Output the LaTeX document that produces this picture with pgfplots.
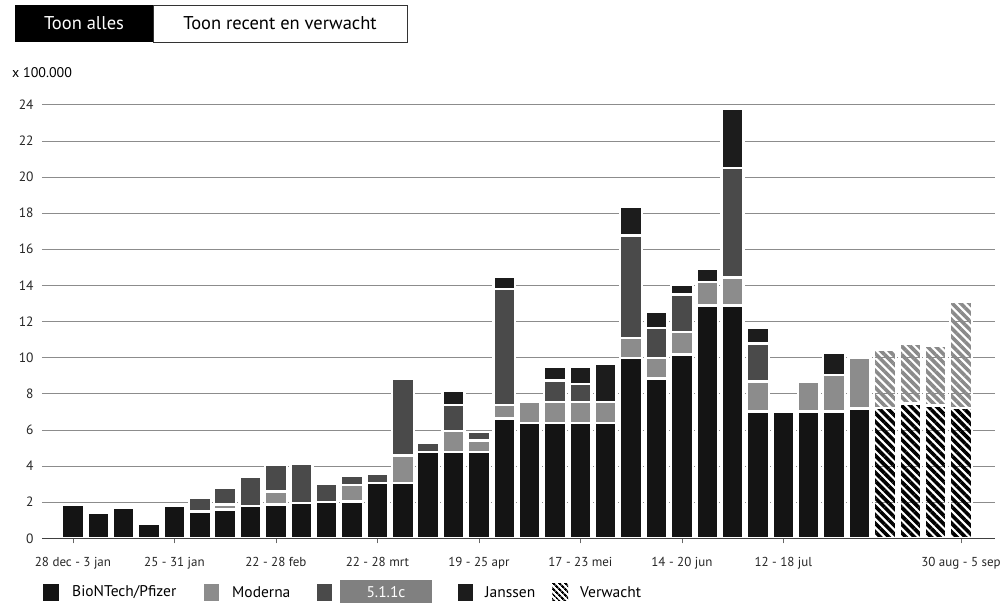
\documentclass[border=0pt]{standalone}
\usepackage{fontspec}
\setmainfont{PT Sans}
\usepackage{pgfplots}
\pgfplotsset{compat=1.18}
\usepackage{pgfplotstable}
\usetikzlibrary{patterns.meta}

\definecolor{pfz}{HTML}{141414}
\definecolor{mod}{HTML}{8C8C8C}
\definecolor{azc}{HTML}{4A4A4A}
\definecolor{jan}{HTML}{1C1C1C}
\definecolor{vm}{HTML}{8A8A8A}

\pgfplotstableread{
x P M A J VP VM
0 1.86 0 0 0 0 0
1 1.40 0 0 0 0 0
2 1.69 0 0 0 0 0
3 0.81 0 0 0 0 0
4 1.78 0 0 0 0 0
5 1.49 0 0.75 0 0 0
6 1.58 0.28 0.92 0 0 0
7 1.78 0 1.65 0 0 0
8 1.86 0.73 1.48 0 0 0
9 1.95 0 2.18 0 0 0
10 2.01 0 1.01 0 0 0
11 2.04 0.92 0.48 0 0 0
12 3.07 0 0.50 0 0 0
13 3.07 1.52 4.24 0 0 0
14 4.77 0 0.52 0 0 0
15 4.77 1.17 1.45 0.79 0 0
16 4.77 0.65 0.46 0 0 0
17 6.63 0.76 6.42 0.65 0 0
18 6.39 1.15 0 0 0 0
19 6.39 1.15 1.20 0.74 0 0
20 6.39 1.15 1.01 0.93 0 0
21 6.39 1.15 0 2.12 0 0
22 9.97 1.11 5.68 1.57 0 0
23 8.83 1.14 1.67 0.88 0 0
24 10.17 1.24 2.09 0.53 0 0
25 12.87 1.31 0 0.75 0 0
26 12.87 1.55 6.08 3.27 0 0
27 7.02 1.66 2.09 0.87 0 0
28 7.02 0 0 0 0 0
29 7.02 1.66 0 0 0 0
30 7.02 2.03 0 1.22 0 0
31 7.17 2.80 0 0 0 0
32 0 0 0 0 7.21 3.24
33 0 0 0 0 7.45 3.32
34 0 0 0 0 7.35 3.32
35 0 0 0 0 7.21 5.86
}\vacc

\begin{document}
\begin{tikzpicture}[x=1pt,y=1pt]
\useasboundingbox (-42,-68.7) rectangle (961,538.3);
\begin{axis}[
  at={(0,0)}, anchor=south west,
  scale only axis, width=953pt, height=439.1pt,
  xmin=-1.22, xmax=36.34, ymin=0, ymax=24.3,
  ybar stacked, bar width=21.9pt,
  axis line style={draw=none},
  ytick={0,2,...,24},
  ymajorgrids, grid style={black!45, line width=0.5pt},
  xtick={0,4,8,12,16,20,24,28,35},
  xticklabels={28 dec - 3 jan, 25 - 31 jan, 22 - 28 feb, 22 - 28 mrt, 19 - 25 apr, 17 - 23 mei, 14 - 20 jun, 12 - 18 jul, 30 aug - 5 sep},
  xtick pos=bottom, ytick pos=left,
  tick align=outside, major tick length=5pt,
  xtick style={draw=black!60, line width=0.5pt},
  ytick style={draw=none},
  /pgf/number format/assume math mode=true,
  yticklabel style={font=\fontsize{13.5}{15}\selectfont, text=black!85},
  xticklabel style={font=\fontsize{13}{15}\selectfont, text=black!85, yshift=-10pt},
  every axis plot/.append style={draw=white, line width=2.5pt},
]
\addplot[fill=pfz] table[x=x,y=P]{\vacc};
\addplot[fill=mod] table[x=x,y=M]{\vacc};
\addplot[fill=azc] table[x=x,y=A]{\vacc};
\addplot[fill=jan] table[x=x,y=J]{\vacc};
\addplot[pattern={Lines[angle=-45,distance=6pt,line width=3.6pt]}, pattern color=black] table[x=x,y=VP]{\vacc};
\addplot[pattern={Lines[angle=-45,distance=6pt,line width=3.6pt]}, pattern color=vm] table[x=x,y=VM]{\vacc};
\end{axis}
\draw[black!75, line width=0.8pt] (0,0) -- (953,0);
% buttons
\fill[black] (-27,496.3) rectangle (111,533.3);
\draw[black!80, line width=0.8pt] (111,496.3) rectangle (365,533.3);
\node[text=white, font=\fontsize{18.5}{20}\selectfont] at (42,514.8) {Toon alles};
\node[text=black, font=\fontsize{18.5}{20}\selectfont] at (238,514.8) {Toon recent en verwacht};
\node[anchor=west, inner sep=0pt, font=\fontsize{14}{16}\selectfont] at (-30,465.3) {x 100.000};
% legend
\fill[pfz] (1,-62.2) rectangle (17,-45.2);
\node[anchor=west, inner sep=0pt, font=\fontsize{15.5}{17}\selectfont] at (30,-53.7) {BioNTech/Pfizer};
\fill[mod] (162,-62.2) rectangle (177,-45.2);
\node[anchor=west, inner sep=0pt, font=\fontsize{15.5}{17}\selectfont] at (190,-53.7) {Moderna};
\fill[azc] (275,-62.2) rectangle (290,-45.2);
\fill[black!50] (298,-65) rectangle (390,-42);
\node[text=white, font=\fontsize{15.5}{17}\selectfont] at (344,-54.2) {5.1.1c};
\fill[jan] (416,-62.2) rectangle (431,-45.2);
\node[anchor=west, inner sep=0pt, font=\fontsize{15.5}{17}\selectfont] at (443,-53.7) {Janssen};
\fill[pattern={Lines[angle=-45,distance=4pt,line width=2.2pt]}, pattern color=black] (510,-62.2) rectangle (526,-45.2);
\node[anchor=west, inner sep=0pt, font=\fontsize{15.5}{17}\selectfont] at (538,-53.7) {Verwacht};
\end{tikzpicture}
\end{document}
